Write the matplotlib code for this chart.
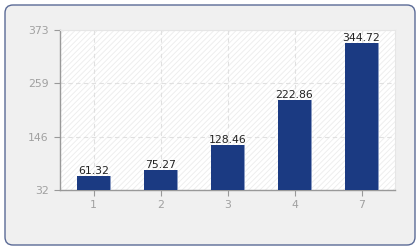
import numpy as np
import matplotlib
matplotlib.use('Agg')
import matplotlib.pyplot as plt
from matplotlib.patches import FancyBboxPatch

# datos
categorias = ['1', '2', '3', '4', '7']
valores = [61.32, 75.27, 128.46, 222.86, 344.72]
y_ticks = [32, 146, 259, 373]

plt.rcParams['hatch.linewidth'] = 0.6

fig = plt.figure(figsize=(4.2, 2.5), dpi=100)
fig.patch.set_facecolor('white')

# caja exterior redondeada (en pixeles)
caja = FancyBboxPatch((5, 5), 410, 240, boxstyle='round,pad=0,rounding_size=8',
                      transform=None, facecolor='#f0f0f0', edgecolor='#5a6a96',
                      linewidth=1.0, zorder=-5)
fig.patches.append(caja)

ax = fig.add_axes([60 / 420, 1 - 190 / 250, 335 / 420, 160 / 250])
ax.set_zorder(2)
ax.patch.set_facecolor('white')
ax.patch.set_hatch('//////')
ax.patch.set_edgecolor('#ececec')

x = np.arange(len(categorias))
base = y_ticks[0]
alturas = [v - base for v in valores]
# sombra a la derecha
ax.bar(x + 0.015, alturas, width=0.5, bottom=base, color='#8a9bc2', zorder=3)
ax.bar(x, alturas, width=0.5, bottom=base, color='#1b3a82', zorder=4)

for xi, v in zip(x, valores):
    ax.text(xi, v, f'{v:.2f}', ha='center', va='bottom', fontsize=7.8,
            color='#222222', zorder=5)

ax.set_xlim(-0.5, len(categorias) - 0.5)
ax.set_ylim(y_ticks[0], y_ticks[-1])
ax.set_xticks(x)
ax.set_xticklabels(categorias)
ax.set_yticks(y_ticks)

ax.grid(True, linestyle=(0, (4, 3)), color='#e0e0e0', linewidth=0.8, zorder=1)
ax.set_axisbelow(True)

for lado in ['top', 'right']:
    ax.spines[lado].set_color('#e6e6e6')
    ax.spines[lado].set_linewidth(0.8)
for lado in ['left', 'bottom']:
    ax.spines[lado].set_color('#999999')
    ax.spines[lado].set_linewidth(1.0)

ax.tick_params(axis='both', colors='#999999', labelcolor='#a0a0a0',
               labelsize=7.8, length=4, width=0.8)
ax.tick_params(axis='y', pad=4)

fig.savefig('out.png', dpi=100)
